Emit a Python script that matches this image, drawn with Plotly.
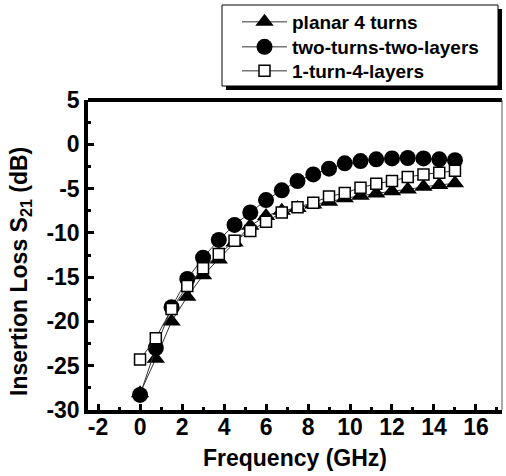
import plotly.graph_objects as go

freq = [0, 0.75, 1.5, 2.25, 3.0, 3.75, 4.5, 5.25, 6.0, 6.75, 7.5, 8.25, 9.0, 9.75,
        10.5, 11.25, 12.0, 12.75, 13.5, 14.25, 15.0]
planar_4_turns = [-28.1, -24.2, -20.0, -17.2, -14.8, -13.0, -11.1, -9.2, -8.1, -7.5, -7.2,
                  -6.8, -6.5, -6.1, -5.8, -5.55, -5.3, -5.1, -4.8, -4.6, -4.4]
two_turns_two_layers = [-28.3, -23.0, -18.4, -15.2, -12.8, -10.8, -9.1, -7.7, -6.3, -5.2, -4.15,
                        -3.4, -2.75, -2.15, -1.9, -1.7, -1.6, -1.55, -1.6, -1.7, -1.8]
one_turn_4_layers = [-24.3, -21.9, -18.6, -16.0, -14.0, -12.4, -10.9, -9.8, -8.75, -7.7, -7.1,
                     -6.6, -5.9, -5.5, -4.9, -4.45, -4.15, -3.7, -3.4, -3.2, -3.0]
names = ["planar 4 turns", "two-turns-two-layers", "1-turn-4-layers"]

x_tickvals = [-2, 0, 2, 4, 6, 8, 10, 12, 14, 16]
x_ticktext = ["-2", "0", "2", "4", "6", "8", "10", "12", "14", "16"]
y_tickvals = [-30, -25, -20, -15, -10, -5, 0, 5]
y_ticktext = ["-30", "-25", "-20", "-15", "-10", "-5", "0", "5"]
x_title = "Frequency (GHz)"
y_title = "Insertion Loss S<sub>21</sub> (dB)"

FONT = "Liberation Sans, Arial, sans-serif"
TITLE_FONT = dict(family=FONT, size=23, color="black", weight="bold")

fig = go.Figure()
fig.add_trace(go.Scatter(
    x=freq, y=planar_4_turns, name=names[0], mode="lines+markers", legend="legend",
    line=dict(color="#333", width=1),
    marker=dict(symbol="triangle-up", size=16, color="black", line=dict(width=0))))
fig.add_trace(go.Scatter(
    x=freq, y=two_turns_two_layers, name=names[1], mode="lines+markers", legend="legend2",
    line=dict(color="#333", width=1),
    marker=dict(symbol="circle", size=16, color="black", line=dict(width=0))))
fig.add_trace(go.Scatter(
    x=freq, y=one_turn_4_layers, name=names[2], mode="lines+markers", legend="legend3",
    line=dict(color="#333", width=1),
    marker=dict(symbol="square", size=11, color="white", line=dict(width=1.5, color="black"))))

axis_common = dict(
    showgrid=False, zeroline=False, showline=True, linecolor="black", linewidth=3.5,
    ticks="inside", tickwidth=3, ticklen=6, tickcolor="black", automargin=False,
    tickfont=dict(family=FONT, size=23, color="black", weight="bold"),
    minor=dict(ticks="inside", ticklen=3, tickwidth=3, tickcolor="black"),
)

fig.update_xaxes(
    range=[-2.48, 17.24], tickmode="array", tickvals=x_tickvals, ticktext=x_ticktext,
    minor_dtick=1, ticklabelstandoff=-6,
    title=dict(text=x_title, font=TITLE_FONT, standoff=12),
    **axis_common)
fig.update_yaxes(
    range=[-30, 5], tickmode="array", tickvals=y_tickvals, ticktext=y_ticktext,
    minor_dtick=2.5,
    **axis_common)

# y-axis title (placed slightly below centre, as in the original)
fig.add_annotation(text=y_title, xref="paper", yref="paper",
                   x=(20 - 88) / 414, y=(410 - 272) / 310, xanchor="center", yanchor="middle",
                   textangle=-90, showarrow=False, font=TITLE_FONT)

# top (thick) and right (thin) frame lines
fig.add_shape(type="line", xref="paper", yref="paper", x0=0, x1=1, y0=1, y1=1,
              line=dict(color="black", width=4))
fig.add_shape(type="line", xref="paper", yref="paper", x0=1, x1=1, y0=0, y1=1,
              line=dict(color="#555", width=1))
# legend frame with shadow (screen px -> paper: x=(px-88)/414, y=(410-py)/310)
fig.add_shape(type="rect", xref="paper", yref="paper",
              x0=(226 - 88) / 414, x1=(502 - 88) / 414, y0=(410 - 90) / 310, y1=(410 - 9) / 310,
              line=dict(width=0), fillcolor="black", layer="below")
fig.add_shape(type="rect", xref="paper", yref="paper",
              x0=(222 - 88) / 414, x1=(498 - 88) / 414, y0=(410 - 86) / 310, y1=(410 - 5) / 310,
              line=dict(width=1, color="black"), fillcolor="white", layer="below")

legend_style = dict(xanchor="left", yanchor="middle", bgcolor="rgba(0,0,0,0)", borderwidth=0,
                    font=dict(family=FONT, size=19, color="black", weight="bold"),
                    itemwidth=45, x=(237 - 88) / 414)

fig.update_layout(
    width=506, height=476,
    margin=dict(l=88, r=4, t=100, b=66, autoexpand=False),
    paper_bgcolor="white", plot_bgcolor="white",
    showlegend=True,
    legend=dict(y=(410 - 22) / 310, **legend_style),
    legend2=dict(y=(410 - 47) / 310, **legend_style),
    legend3=dict(y=(410 - 71) / 310, **legend_style),
)

fig.write_html("out.html", config={"displayModeBar": False},
               post_script="document.body.style.margin='0';document.body.style.padding='0';")
